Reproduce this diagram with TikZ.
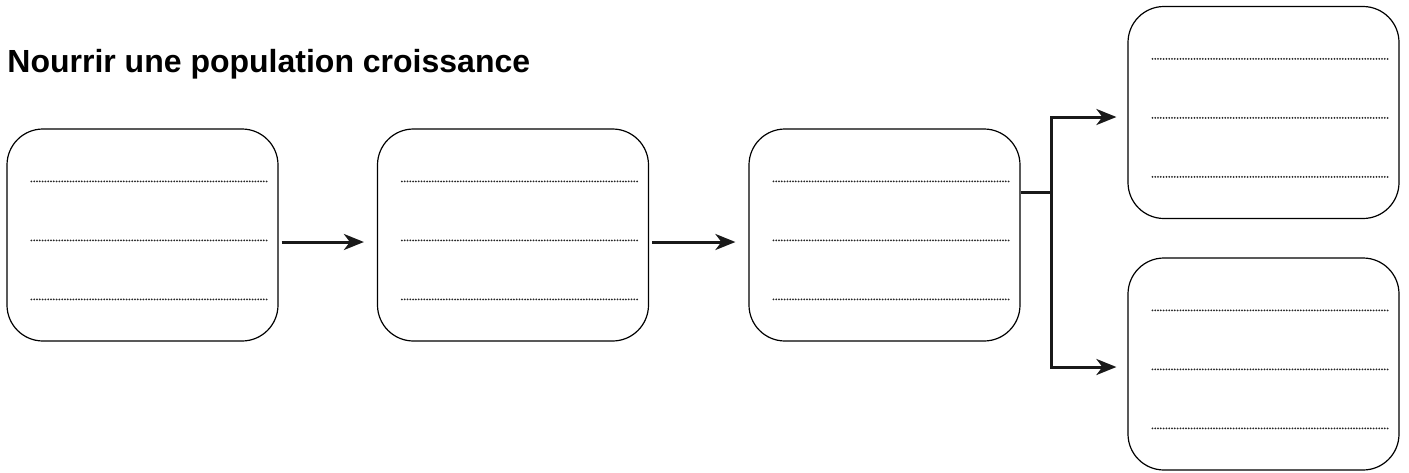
\documentclass[tikz,border=0pt]{standalone}
\usepackage{fontspec}
\setmainfont{Liberation Sans}
\usetikzlibrary{arrows.meta}
\begin{document}
\begin{tikzpicture}[x=0.5pt,y=-0.5pt]

    \tikzset{
      box/.style={
        draw,
        line width=0.6pt,
        rounded corners=18pt,
        minimum width=135.5pt,
        minimum height=106pt,
        inner sep=0pt,
      },
      dotline/.style={
        line width=1pt,
        line cap=round,
        dash pattern=on 0pt off 1.4pt,
        color={black!85},
      },
      link/.style={
        line width=1.5pt,
        color={black!90},
      },
      arr/.style={
        link,
        -{Stealth[length=10pt,width=8pt,inset=3pt]},
      },
    }
    \useasboundingbox (0,0) rectangle (1409,472);
    \node[anchor=base west,inner sep=0pt,font=\bfseries\fontsize{16pt}{19pt}\selectfont] (title) at (7,72) {Nourrir une population croissance};

    \node[box] (b1) at (142.5,235) {};
    \node[box] (b2) at (513,235) {};
    \node[box] (b3) at (884.5,235) {};
    \node[box] (b4) at (1263.5,112.5) {};
    \node[box] (b5) at (1263.5,364) {};

    \foreach \b in {b1,b2,b3,b4,b5}
      \foreach \dy in {53,112,171}
        \draw[dotline] ([shift={(25,\dy)}]\b.north west) -- ([shift={(-12,\dy)}]\b.north east);

    \draw[arr] ([shift={(3,7)}]b1.east) -- ([shift={(-13,7)}]b2.west);
    \draw[arr] ([shift={(3,7)}]b2.east) -- ([shift={(-13,7)}]b3.west);

    \coordinate (fork) at ([shift={(31,-43)}]b3.east);
    \draw[link] ([shift={(0,-43)}]b3.east) -- (fork);
    \draw[arr] (fork) |- ([shift={(-11,4.5)}]b4.west);
    \draw[arr] (fork) |- ([shift={(-11,3)}]b5.west);

\end{tikzpicture}
\end{document}
